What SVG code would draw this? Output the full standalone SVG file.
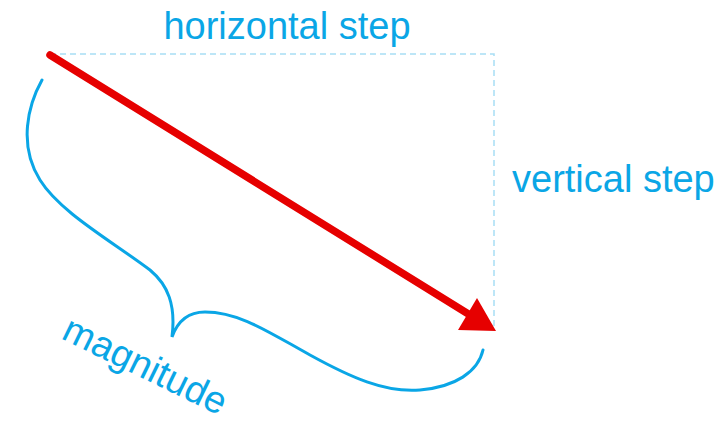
<svg xmlns="http://www.w3.org/2000/svg" width="726" height="423" viewBox="0 0 726 423">
<style>
.lbl{font-family:"Liberation Sans",Arial,sans-serif;font-size:38px;fill:#0aa6e6}
.guide{stroke:#a8def5;stroke-width:1.5;stroke-dasharray:6 4;fill:none}
.brace{stroke:#0aa6e6;stroke-width:3;fill:none;stroke-linecap:round}
</style>
<rect width="726" height="423" fill="#fff"/>
<g id="guides">
<path class="guide" d="M50,54 H494 V330"/>
</g>
<g id="brace">
<path class="brace" d="M42,80 C28,105 18,145 40,180 C60,212 110,240 150,270 C168,285 176,305 172,337 C178,320 190,312 205,312 C240,312 270,333 310,355 C350,377 385,393 420,390 C455,387 478,372 483,350"/>
</g>
<g id="vector">
<line x1="50" y1="55" x2="470" y2="315" stroke="#e60000" stroke-width="7.5" stroke-linecap="round"/>
<polygon points="458,330 477,298 496,331" fill="#e60000"/>
</g>
<g id="labels">
<text class="lbl" x="287" y="39" text-anchor="middle">horizontal step</text>
<text class="lbl" x="512" y="192">vertical step</text>
<text class="lbl" transform="translate(60,338) rotate(26)">magnitude</text>
</g>
</svg>
